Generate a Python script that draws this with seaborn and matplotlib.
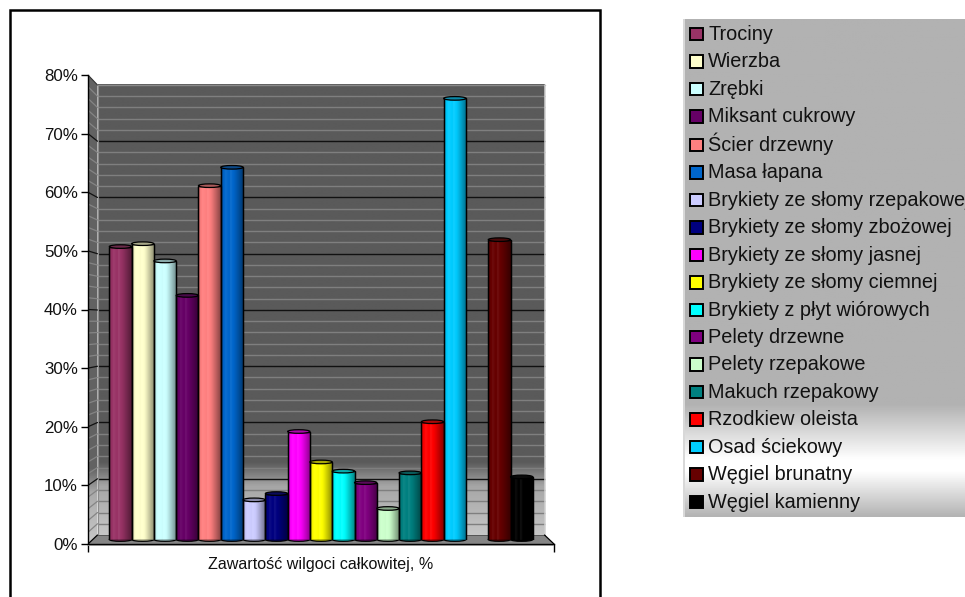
import numpy as np
import pandas as pd
import seaborn as sns
import matplotlib
matplotlib.use("Agg")
import matplotlib.pyplot as plt
from matplotlib.colors import LinearSegmentedColormap, to_rgb
from matplotlib.legend_handler import HandlerPatch
from matplotlib.patches import Ellipse, Patch, Polygon, Rectangle

materials = [
    "Trociny", "Wierzba", "Zrębki", "Miksant cukrowy", "Ścier drzewny", "Masa łapana",
    "Brykiety ze słomy rzepakowej", "Brykiety ze słomy zbożowej", "Brykiety ze słomy jasnej",
    "Brykiety ze słomy ciemnej", "Brykiety z płyt wiórowych", "Pelety drzewne",
    "Pelety rzepakowe", "Makuch rzepakowy", "Rzodkiew oleista", "Osad ściekowy",
    "Węgiel brunatny", "Węgiel kamienny",
]
moisture = [51.0, 51.5, 48.5, 42.5, 61.6, 64.8, 6.9, 8.0, 18.8,
            13.5, 11.9, 9.9, 5.4, 11.6, 20.5, 76.8, 52.2, 10.9]
colors = ["#993366", "#FFFFCC", "#CCFFFF", "#660066", "#FF8080", "#0066CC",
          "#CCCCFF", "#000080", "#FF00FF", "#FFFF00", "#00FFFF", "#800080",
          "#CCFFCC", "#008080", "#FF0000", "#00CCFF", "#660000", "#000000"]
y_ticks = [0, 10, 20, 30, 40, 50, 60, 70, 80]
x_title = "Zawartość wilgoci całkowitej, %"

W, H = 965, 597
sns.set_theme(style="white")
plt.rcParams["font.family"] = ["Liberation Sans", "DejaVu Sans"]
plt.rcParams["text.color"] = "#111111"

fig = plt.figure(figsize=(W / 100, H / 100), dpi=100, facecolor="white")


def px_axes(x0, y0, x1, y1, **kw):
    """Axes placed by pixel edges, measured from the top-left corner."""
    return fig.add_axes([x0 / W, 1 - y1 / H, (x1 - x0) / W, (y1 - y0) / H], **kw)


# Outer chart frame; its lower edge runs past the bottom of the figure
fig.add_artist(Rectangle((9.5 / W, -0.05), 590.5 / W, 1.05 - 10 / H, transform=fig.transFigure,
                         fill=False, ec="black", lw=1.8))

# --- Front plane of the 3-D box: axis scale, walls and floor ---------------------------
ax = px_axes(88, 75, 554, 544, zorder=1)
ax.patch.set_visible(False)
ax.set_xlim(0, 466)
ax.set_ylim(0, 80)
depth = 9.5


def back_y(v):
    return 1.535 + 0.9595 * np.asarray(v, dtype=float)


wall_cmap = LinearSegmentedColormap.from_list(
    "wall", [(0, "#5a5a5a"), (0.84, "#5a5a5a"), (0.893, "#a6a6a6"), (1, "#c6c6c6")])
grad = np.linspace(0, 1, 256)[:, None]
b0, b80 = back_y(0), back_y(80)

ax.imshow(grad, cmap=wall_cmap, extent=(depth, 466 - depth, b0, b80), aspect="auto", zorder=1)
side = ax.imshow(grad, cmap=wall_cmap, extent=(0, depth, 0, 80), aspect="auto", zorder=1, alpha=0.95)
side_poly = Polygon([(0, 0), (depth, b0), (depth, b80), (0, 80)], closed=True,
                    transform=ax.transData, fc="none", ec="none")
ax.add_patch(side_poly)
side.set_clip_path(side_poly)

for v in np.arange(2, 80, 2):
    major = v % 10 == 0
    ax.plot([depth, 466 - depth], [back_y(v)] * 2, color="#111111" if major else "#7f7f7f",
            lw=1.0, zorder=2, solid_capstyle="butt")
    ax.plot([0, depth], [v, back_y(v)], color="#111111" if major else "#858585",
            lw=0.9, zorder=2)
ax.plot([depth, 466 - depth], [b80, b80], color="#8a8a8a", lw=1.0, zorder=2)
ax.plot([0, depth], [80, b80], color="#333333", lw=0.8, zorder=2)
ax.plot([depth, depth], [b0, b80], color="#8c8c8c", lw=0.8, zorder=2)
ax.plot([466 - depth] * 2, [b0, b80], color="#cfcfcf", lw=1.1, zorder=2)

ax.add_patch(Polygon([(0, 0), (depth, b0), (466 - depth, b0), (466, 0)], closed=True,
                     fc="#858585", ec="none", zorder=2))
ax.plot([depth, 466 - depth], [b0, b0], color="#555555", lw=0.7, zorder=2)
ax.plot([0, depth], [0, b0], color="black", lw=0.9, zorder=3)
ax.plot([466 - depth, 466], [b0, 0], color="black", lw=0.9, zorder=3, clip_on=False)
ax.add_patch(Rectangle((0, -0.4), 466, 0.4, fc="#b0b0b0", ec="none", zorder=2, clip_on=False))

ax.set_xlim(0, 466)
ax.set_ylim(0, 80)
sns.despine(ax=ax, top=True, right=True)
for name in ("left", "bottom"):
    ax.spines[name].set_color("black")
    ax.spines[name].set_linewidth(1.0)
    ax.spines[name].set_zorder(5)
ax.set_yticks(y_ticks)
ax.set_yticklabels([f"{t}%" for t in y_ticks], fontsize=12.2, color="#111111")
ax.set_xticks([0, 466])
ax.set_xticklabels(["", ""])
ax.tick_params(axis="y", length=5, width=1.0, color="black", pad=2.2, left=True)
ax.tick_params(axis="x", length=5.8, width=1.0, color="black", bottom=True)
ax.set_xlabel(x_title, fontsize=11.6, labelpad=0, color="#111111")
ax.grid(False)

# --- Cylinders, on a plane halfway between the front and the back wall ------------------
bx = px_axes(88, 80, 554, 539.5, zorder=2)
bx.patch.set_visible(False)
frame = pd.DataFrame({"material": materials, "moisture": moisture})
# One empty slot separates the coals from the other fuels
order = materials[:16] + [""] + materials[16:]
sns.barplot(data=frame, x="material", y="moisture", hue="material", order=order,
            hue_order=materials, palette=colors, dodge=False, width=1, saturation=1,
            legend=False, edgecolor="black", linewidth=0.9, ax=bx, zorder=3)
x_lim = (-1.456, 19.45)
bx.set_xlim(*x_lim)
bx.set_ylim(0, 80)
bx.axis("off")

units_per_px = 80 / 459.5
cap = 3.6 * units_per_px
knots = [0, 0.07, 0.2, 0.36, 0.42, 0.62, 0.8, 1]
shade = [-0.32, -0.08, 0.06, -0.02, 0.08, -0.08, -0.26, -0.48]
t = np.linspace(0, 1, 64)
s = np.interp(t, knots, shade)
overlay = np.zeros((1, 64, 4))
overlay[0, :, :3] = (s > 0)[:, None]
overlay[0, :, 3] = np.abs(s)

for bar in sorted(bx.patches, key=lambda p: p.get_x()):
    x0, w, h = bar.get_x(), bar.get_width(), bar.get_height()
    fc = np.array(to_rgb(bar.get_facecolor()))
    base = Ellipse((x0 + w / 2, 0), w, cap, fc=fc * 0.75, ec="black", lw=0.9, zorder=2.9, clip_on=False)
    bx.add_patch(base)
    bx.imshow(overlay, extent=(x0, x0 + w, 0, h), aspect="auto", zorder=3.1, interpolation="bilinear")
    bx.add_patch(Rectangle((x0, 0), w, h, fill=False, ec="black", lw=0.9, zorder=3.2))
    top = Ellipse((x0 + w / 2, h), w, cap, fc=fc * 0.62 + 0.04, ec="black", lw=0.9, zorder=3.3, clip_on=False)
    bx.add_patch(top)
bx.set_xlim(*x_lim)
bx.set_ylim(0, 80)

# --- Legend panel with its white band towards the bottom --------------------------------
lx = px_axes(684.5, 19, 965, 517, zorder=1)
panel_cmap = LinearSegmentedColormap.from_list(
    "panel", [(0, "#b2b2b2"), (0.775, "#b2b2b2"), (0.885, "#ffffff"), (0.91, "#ffffff"), (1, "#b4b4b4")])
lx.imshow(grad, cmap=panel_cmap, extent=(0, 1, 0, 1), aspect="auto")
lx.set_xlim(0, 1)
lx.set_ylim(0, 1)
lx.axis("off")
fig.add_artist(Rectangle((683 / W, 1 - 517 / H), 1.5 / W, 498 / H, transform=fig.transFigure,
                         fc="#d8d8d8", ec="none"))


def square_key(legend, orig_handle, xdescent, ydescent, width, height, fontsize):
    # A fixed square key, centred in a taller box so every row has the same height
    side_len = 9.0
    return Rectangle((-xdescent, -ydescent + (height - side_len) / 2 - 0.6), width, side_len)


handles = [Patch(facecolor=c, edgecolor="black", linewidth=1.4, label=m)
           for m, c in zip(materials, colors)]
leg = lx.legend(handles=handles, loc="upper left", bbox_to_anchor=(0.02, 0.9925), frameon=False,
                fontsize=14.3, borderpad=0, borderaxespad=0, handlelength=0.66, handleheight=1.25,
                handletextpad=0.25, labelspacing=0.315, labelcolor="#111111",
                handler_map={Patch: HandlerPatch(patch_func=square_key)})
for text in leg.get_texts():
    text.set_clip_on(True)

fig.savefig("out.png", dpi=100)
